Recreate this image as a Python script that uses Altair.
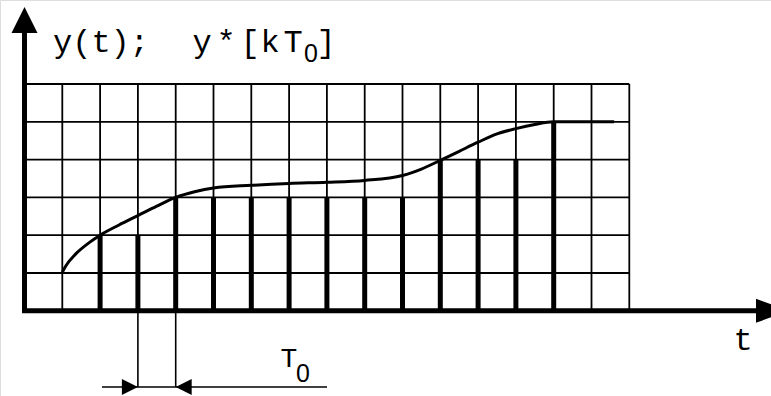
import altair as alt
import pandas as pd

# Grid size in sampling periods (columns) and amplitude steps (rows)
n_cols = 16
n_rows = 6

# Sample instants k and the quantised values y*[kT0]
sample_k = [2, 3, 4, 5, 6, 7, 8, 9, 10, 11, 12, 13, 14]
sample_y = [2, 2, 3, 3, 3, 3, 3, 3, 3, 4, 4, 4, 5]

# Continuous signal y(t)
curve_t = [1.0, 1.1, 1.35, 1.72, 2.0, 2.5, 3.0, 3.5, 4.0, 4.5, 5.0, 6.0, 7.0,
           8.0, 9.0, 10.0, 10.5, 11.0, 11.5, 12.0, 12.5, 13.0, 13.5, 14.0, 15.6]
curve_y = [1.02, 1.2, 1.5, 1.81, 2.0, 2.27, 2.52, 2.77, 3.0, 3.15, 3.25, 3.32, 3.37,
           3.40, 3.45, 3.58, 3.75, 3.98, 4.22, 4.46, 4.68, 4.82, 4.93, 5.0, 5.0]

W, H = 771, 396
CELL = 37.8            # pixels per grid step
X0, Y0 = 24.5, 310.8   # pixel position of the origin


def ux(px):
    return (px - X0) / CELL


def uy(py):
    return (Y0 - py) / CELL


xs = alt.Scale(domain=[ux(0), ux(W)], nice=False, zero=False)
ys = alt.Scale(domain=[uy(H), uy(0)], nice=False, zero=False)

INK = "#000000"

vlines = pd.DataFrame({"x": list(range(1, n_cols + 1)), "y": 0, "y2": n_rows})
hlines = pd.DataFrame({"y": list(range(1, n_rows + 1)), "x": 0, "x2": n_cols})
stems = pd.DataFrame({"k": sample_k, "v": sample_y, "z": 0})
curve = pd.DataFrame({"t": curve_t, "y": curve_y})

grid_v = alt.Chart(vlines).mark_rule(color=INK, strokeWidth=1.8).encode(
    x=alt.X("x:Q", scale=xs, axis=None), y=alt.Y("y:Q", scale=ys, axis=None), y2="y2:Q")
grid_h = alt.Chart(hlines).mark_rule(color=INK, strokeWidth=1.8).encode(
    y=alt.Y("y:Q", scale=ys, axis=None), x=alt.X("x:Q", scale=xs, axis=None), x2="x2:Q")

stem_marks = alt.Chart(stems).mark_rule(color=INK, strokeWidth=5).encode(
    x=alt.X("k:Q", scale=xs, axis=None), y=alt.Y("z:Q", scale=ys, axis=None), y2="v:Q")

signal = alt.Chart(curve).mark_line(color=INK, strokeWidth=3, interpolate="monotone").encode(
    x=alt.X("t:Q", scale=xs, axis=None), y=alt.Y("y:Q", scale=ys, axis=None))

# Coordinate axes with arrowheads
axes_df = pd.DataFrame({"x": [0, ux(22)], "x2": [0, ux(757)],
                        "y": [uy(313), 0], "y2": [uy(32), 0]})
axes = alt.Chart(axes_df).mark_rule(color=INK, strokeWidth=5).encode(
    x=alt.X("x:Q", scale=xs, axis=None), x2="x2:Q",
    y=alt.Y("y:Q", scale=ys, axis=None), y2="y2:Q")

up_head = alt.Chart(pd.DataFrame({"x": [0], "y": [uy(20)]})).mark_point(
    shape="M-1,1L0,-1L1,1Z", size=26 * 26, filled=True, opacity=1, color=INK, strokeWidth=0
).encode(x=alt.X("x:Q", scale=xs, axis=None), y=alt.Y("y:Q", scale=ys, axis=None))

right_head = alt.Chart(pd.DataFrame({"x": [ux(772.5)], "y": [0]})).mark_point(
    shape="M-1,-0.727L1,0L-1,0.727Z", size=33 * 33, filled=True, opacity=1, color=INK, strokeWidth=0
).encode(x=alt.X("x:Q", scale=xs, axis=None), y=alt.Y("y:Q", scale=ys, axis=None))

# Dimension marking one sampling period T0 between k=3 and k=4
dim_y = uy(387)
dim_df = pd.DataFrame({"x": [3, 4, ux(102)], "x2": [3, 4, ux(327)],
                       "y": [0, 0, dim_y], "y2": [dim_y, dim_y, dim_y]})
dim_lines = alt.Chart(dim_df).mark_rule(color=INK, strokeWidth=1.6).encode(
    x=alt.X("x:Q", scale=xs, axis=None), x2="x2:Q",
    y=alt.Y("y:Q", scale=ys, axis=None), y2="y2:Q")

head_w = 16
dim_right = alt.Chart(pd.DataFrame({"x": [3 - head_w / 2 / CELL], "y": [dim_y]})).mark_point(
    shape="M-1,-1L1,0L-1,1Z", size=head_w * head_w, filled=True, opacity=1, color=INK, strokeWidth=0
).encode(x=alt.X("x:Q", scale=xs, axis=None), y=alt.Y("y:Q", scale=ys, axis=None))
dim_left = alt.Chart(pd.DataFrame({"x": [4 + head_w / 2 / CELL], "y": [dim_y]})).mark_point(
    shape="M1,-1L-1,0L1,1Z", size=head_w * head_w, filled=True, opacity=1, color=INK, strokeWidth=0
).encode(x=alt.X("x:Q", scale=xs, axis=None), y=alt.Y("y:Q", scale=ys, axis=None))

MONO = "Liberation Mono"
SANS = "Liberation Sans"


def label(text, px, py, size, font=MONO, align="left"):
    return alt.Chart(pd.DataFrame({"s": [text]})).mark_text(
        font=font, fontSize=size, color=INK, align=align, baseline="alphabetic"
    ).encode(x=alt.value(px), y=alt.value(py), text="s:N")


texts = [
    label("y(t);", 53, 52, 32),
    label("y", 202, 52, 32, align="center"),
    label("*", 226, 52, 32, align="center"),
    label("[", 250, 52, 32, align="center"),
    label("k", 270, 52, 32, align="center"),
    label("T", 293, 52, 32, align="center"),
    label("0", 311, 62, 25, font=SANS, align="center"),
    label("]", 326, 52, 32, align="center"),
    label("t", 743, 350, 32, align="center"),
    label("T", 289, 367, 28, align="center"),
    label("0", 303, 382, 25, font=SANS, align="center"),
]

chart = alt.layer(
    grid_v, grid_h, stem_marks, signal, axes, up_head, right_head,
    dim_lines, dim_right, dim_left, *texts
).properties(
    width=W, height=H, padding=0,
    autosize=alt.AutoSizeParams(type="none"),
).configure_view(stroke=None).configure(background="white")

chart.save("out.html", embed_options={"renderer": "svg", "actions": False})
